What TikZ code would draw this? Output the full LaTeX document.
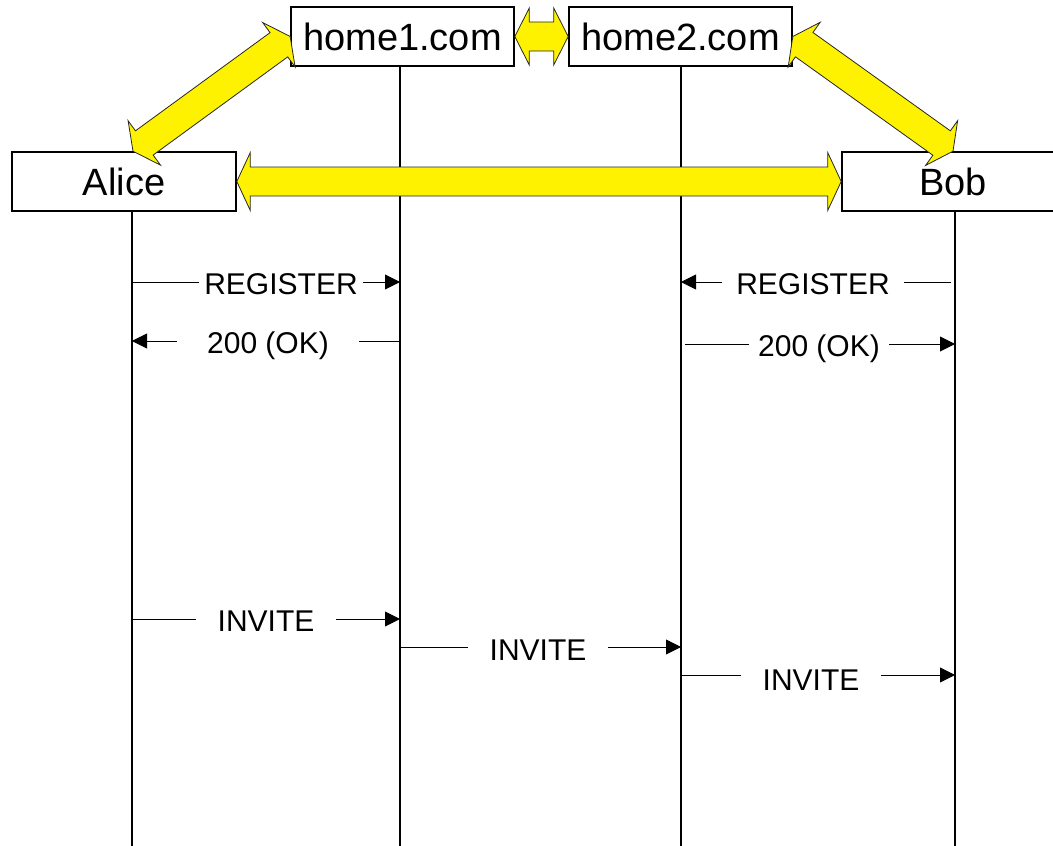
\documentclass[tikz,border=0pt]{standalone}
\usepackage{fontspec}
\setmainfont{Liberation Sans}
\usetikzlibrary{calc,arrows.meta}

\tikzset{
  entity/.style={draw, line width=1.6pt, fill=white, minimum height=59pt,
    inner sep=0pt, font=\fontsize{38}{40}\selectfont},
  lifeline/.style={line width=1.6pt},
  msg/.style={line width=0.9pt, -{Triangle[length=15pt,width=15pt]}},
  msglabel/.style={fill=white, inner xsep=0pt, inner ysep=2pt, text height=22pt,
    text depth=0pt, font=\fontsize{30}{32}\selectfont},
  blockarrow/.style={fill=yellow, draw=black!85, line width=0.8pt, line join=miter},
}

% Double-headed block arrow between two tip points:
% #1, #2 tips; #3 half shaft width; #4 half head width; #5 head length
\newcommand{\yellowlink}[5]{%
  \coordinate (yl-a) at ($(#1)!#5!(#2)$);
  \coordinate (yl-b) at ($(#2)!#5!(#1)$);
  \draw[blockarrow] (#1) -- ($(yl-a)!#4!90:(#2)$) -- ($(yl-a)!#3!90:(#2)$)
    -- ($(yl-b)!#3!-90:(#1)$) -- ($(yl-b)!#4!-90:(#1)$) -- (#2)
    -- ($(yl-b)!#4!90:(#1)$) -- ($(yl-b)!#3!90:(#1)$)
    -- ($(yl-a)!#3!-90:(#2)$) -- ($(yl-a)!#4!-90:(#2)$) -- cycle;
}

\begin{document}
\begin{tikzpicture}[x=1pt, y=-1pt]
  \useasboundingbox (0,0) rectangle (1053,846);

  % participants
  \node[entity, minimum width=223pt] (home1) at (402.5,36.5) {home1.com};
  \node[entity, minimum width=223pt] (home2) at (680.5,36.5) {home2.com};
  \node[entity, minimum width=224pt] (alice) at (124,181.5) {Alice};
  \node[entity, minimum width=222pt] (bob)   at (953,181.5) {Bob};

  % lifelines
  \coordinate (bottom) at (0,846);
  \coordinate (aliceL) at ($(alice.south)+(8,0)$);
  \coordinate (home1L) at ($(home1.south)+(-2.5,0)$);
  \coordinate (home2L) at ($(home2.south)+(0.5,0)$);
  \coordinate (bobL)   at ($(bob.south)+(2,0)$);
  \draw[lifeline] (aliceL) -- (aliceL |- bottom);
  \draw[lifeline] (home1L) -- (home1L |- bottom);
  \draw[lifeline] (home2L) -- (home2L |- bottom);
  \draw[lifeline] (bobL)   -- (bobL |- bottom);

  % message rows
  \coordinate (r1) at (0,282);
  \coordinate (r2) at (0,341);
  \coordinate (r2b) at (0,344);
  \coordinate (r3) at (0,619);
  \coordinate (r4) at (0,647);
  \coordinate (r5) at (0,675);

  % registration
  \draw[msg] (aliceL |- r1) -- (home1L |- r1);
  \node[msglabel, minimum width=164pt] (regA) at (281,283) {REGISTER};
  \draw[msg] (home1L |- r2) -- (aliceL |- r2);
  \node[msglabel, minimum width=182pt] (okA) at (268,342) {200 (OK)};
  \draw[msg] ($(bobL |- r1)+(-4,0)$) -- (home2L |- r1);
  \node[msglabel, minimum width=182pt] (regB) at (813,283) {REGISTER};
  \draw[msg] ($(home2L |- r2b)+(4,0)$) -- (bobL |- r2b);
  \node[msglabel, minimum width=140pt] (okB) at (819,345) {200 (OK)};

  % invitation
  \draw[msg] (aliceL |- r3) -- (home1L |- r3);
  \node[msglabel, minimum width=140pt] (invA) at (266,620.5) {INVITE};
  \draw[msg] (home1L |- r4) -- (home2L |- r4);
  \node[msglabel, minimum width=140pt] (invB) at (538,649) {INVITE};
  \draw[msg] (home2L |- r5) -- (bobL |- r5);
  \node[msglabel, minimum width=140pt] (invC) at (811,679.5) {INVITE};

  % relationships between participants
  \coordinate (aliceTip) at ($(alice.north)+(9,0)$);
  \yellowlink{aliceTip}{home1.west}{15pt}{27.5pt}{14pt}
  \yellowlink{bob.north}{home2.east}{15pt}{27.5pt}{14pt}
  \yellowlink{home1.east}{home2.west}{14.5pt}{28.5pt}{14.5pt}
  \yellowlink{alice.east}{bob.west}{14.5pt}{29pt}{13.5pt}
\end{tikzpicture}
\end{document}
